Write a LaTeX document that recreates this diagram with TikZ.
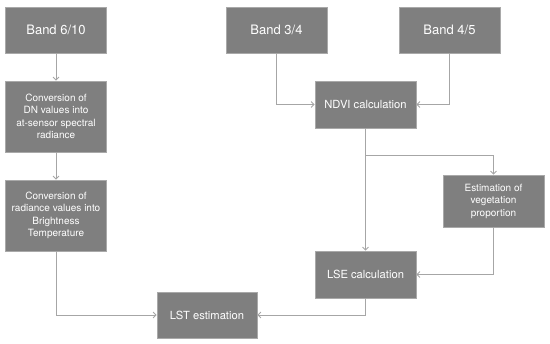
\documentclass[tikz,border=0pt]{standalone}
\usepackage{fontspec}
\setmainfont{TeX Gyre Heros}
\usetikzlibrary{arrows.meta}
\definecolor{boxfill}{HTML}{7F7F7F}
\definecolor{boxedge}{HTML}{A9A9A9}
\definecolor{linecol}{HTML}{A6A6A6}
\begin{document}
\begin{tikzpicture}[x=1pt,y=-1pt,
  box/.style={draw=boxedge, line width=0.8pt, fill=boxfill, text=white, align=center,
    inner sep=1pt, minimum width=101pt, minimum height=46pt},
  big/.style={font=\fontsize{13}{15}\selectfont},
  mid/.style={font=\fontsize{11.2}{13.5}\selectfont},
  small/.style={font=\fontsize{10}{12.5}\selectfont},
  conn/.style={draw=linecol, line width=0.8pt, -{Straight Barb[length=3pt,width=6pt]}}]
\useasboundingbox (0,0) rectangle (550,344);
\node[box,big] (b610) at (56,30) {Band 6/10};
\node[box,small,minimum height=71pt] (conv1) at (56,116.5) {Conversion of\\DN values into\\at-sensor spectral\\radiance};
\node[box,small,minimum height=71pt] (conv2) at (56,215.5) {Conversion of\\radiance values into\\Brightness\\Temperature};
\node[box,big] (b34) at (276.5,30) {Band 3/4};
\node[box,big] (b45) at (449.5,30) {Band 4/5};
\node[box,mid,minimum height=47pt] (ndvi) at (365.5,104.5) {NDVI calculation};
\node[box,small,minimum height=52pt] (est) at (493.5,201) {Estimation of\\vegetation\\proportion};
\node[box,mid,minimum height=47pt] (lse) at (365.5,274.5) {LSE calculation};
\node[box,mid,minimum width=100pt] (lst) at (207,315) {LST estimation};
\coordinate (br) at (365.5,155);
\draw[conn] (b610) -- (conv1);
\draw[conn] (conv1) -- (conv2);
\draw[conn] (b34.south) |- (ndvi.west);
\draw[conn] (b45.south) |- (ndvi.east);
\draw[conn] (ndvi.south) -- (lse.north);
\draw[conn] (br) -| (est.north);
\draw[conn] (est.south) |- (lse.east);
\draw[conn] (conv2.south) |- (lst.west);
\draw[conn] (lse.south) |- (lst.east);
\end{tikzpicture}
\end{document}
